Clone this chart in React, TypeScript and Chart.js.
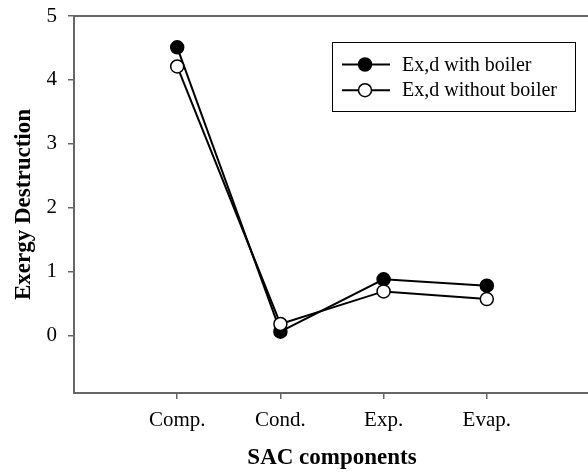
import React, { useEffect, useRef } from 'react';
import { Chart, registerables } from 'chart.js';

Chart.register(...registerables);

const categories = ['Comp.', 'Cond.', 'Exp.', 'Evap.'];
const withBoiler = [4.51, 0.06, 0.88, 0.78];
const withoutBoiler = [4.21, 0.18, 0.69, 0.57];
const yTickValues = [0, 1, 2, 3, 4, 5];
const seriesLabels = ['Ex,d with boiler', 'Ex,d without boiler'];
const xTitle = 'SAC components';
const yTitle = 'Exergy Destruction';

const FONT = "'Liberation Serif', 'Times New Roman', serif";
const AXIS_COLOR = '#666';

const boxLegend = {
  id: 'boxLegend',
  afterDraw(chart: any) {
    const ctx = chart.ctx as CanvasRenderingContext2D;
    ctx.save();
    // top frame line
    const { left, right, top } = chart.chartArea;
    ctx.strokeStyle = AXIS_COLOR;
    ctx.lineWidth = 2;
    ctx.beginPath();
    ctx.moveTo(left - 1, top);
    ctx.lineTo(right, top);
    ctx.stroke();

    // legend box
    const x0 = 332, y0 = 42, w = 243, h = 69;
    ctx.strokeStyle = '#000';
    ctx.lineWidth = 1;
    ctx.strokeRect(x0 + 0.5, y0 + 0.5, w, h);
    chart.data.datasets.forEach((ds: any, i: number) => {
      const cy = 64.5 + i * 25.7;
      ctx.strokeStyle = '#000';
      ctx.lineWidth = 2;
      ctx.beginPath();
      ctx.moveTo(342, cy);
      ctx.lineTo(390, cy);
      ctx.stroke();
      ctx.beginPath();
      ctx.arc(365, cy, 6.5, 0, Math.PI * 2);
      ctx.fillStyle = ds.pointBackgroundColor;
      ctx.fill();
      ctx.lineWidth = 1.5;
      ctx.stroke();
      ctx.fillStyle = '#000';
      ctx.font = `20px ${FONT}`;
      ctx.textBaseline = 'middle';
      ctx.textAlign = 'left';
      ctx.fillText(ds.label, 402, cy + 1);
    });
    ctx.restore();
  },
};

export default function App() {
  const ref = useRef<HTMLCanvasElement | null>(null);

  useEffect(() => {
    if (!ref.current) return;
    const chart = new Chart(ref.current, {
      type: 'line',
      data: {
        datasets: [
          {
            label: seriesLabels[0],
            data: categories.map((_, i) => ({ x: i + 1, y: withBoiler[i] })),
            borderColor: '#000',
            borderWidth: 2,
            pointBackgroundColor: '#000',
            pointBorderColor: '#000',
            pointBorderWidth: 1.5,
            pointRadius: 6.5,
            tension: 0,
            order: 1,
          },
          {
            label: seriesLabels[1],
            data: categories.map((_, i) => ({ x: i + 1, y: withoutBoiler[i] })),
            borderColor: '#000',
            borderWidth: 2,
            pointBackgroundColor: '#fff',
            pointBorderColor: '#000',
            pointBorderWidth: 1.5,
            pointRadius: 6.5,
            tension: 0,
            order: 0,
          },
        ],
      },
      options: {
        animation: false,
        responsive: false,
        devicePixelRatio: 1,
        layout: { padding: { top: 16, left: 0, right: 0, bottom: 0 } },
        plugins: {
          legend: { display: false },
          tooltip: { enabled: false },
        },
        scales: {
          x: {
            type: 'linear',
            min: 0,
            max: 5,
            afterBuildTicks: (axis: any) => {
              axis.ticks = categories.map((_, i) => ({ value: i + 1 }));
            },
            afterFit: (axis: any) => {
              axis.height = 80;
              axis.paddingLeft = 0;
              axis.paddingRight = 0;
            },
            ticks: {
              callback: (v: any) => categories[Number(v) - 1] ?? '',
              color: '#000',
              font: { family: FONT, size: 21 },
              padding: 9,
              maxRotation: 0,
              autoSkip: false,
            },
            grid: {
              drawOnChartArea: false,
              drawTicks: true,
              tickLength: 6,
              color: AXIS_COLOR,
              lineWidth: 1.5,
            },
            border: { display: true, color: AXIS_COLOR, width: 2 },
            title: {
              display: true,
              text: xTitle,
              color: '#000',
              font: { family: FONT, size: 23, weight: 'bold' },
              padding: { top: 0, bottom: 1 },
            },
          },
          y: {
            type: 'linear',
            min: -0.9,
            max: 5,
            afterBuildTicks: (axis: any) => {
              axis.ticks = yTickValues.map((v) => ({ value: v }));
            },
            afterFit: (axis: any) => {
              axis.width = 74;
              axis.paddingTop = 0;
              axis.paddingBottom = 0;
            },
            ticks: {
              color: '#000',
              font: { family: FONT, size: 21 },
              padding: 11,
            },
            grid: {
              drawOnChartArea: false,
              drawTicks: true,
              tickLength: 6,
              color: AXIS_COLOR,
              lineWidth: 1.5,
            },
            border: { display: true, color: AXIS_COLOR, width: 2 },
            title: {
              display: true,
              text: yTitle,
              color: '#000',
              font: { family: FONT, size: 23, weight: 'bold' },
              padding: { top: 10, bottom: 0 },
            },
          },
        },
      } as any,
      plugins: [boxLegend],
    });
    return () => chart.destroy();
  }, []);

  return (
    <div style={{ position: 'absolute', left: 0, top: 0, width: 588, height: 473, overflow: 'hidden', background: '#fff' }}>
      <canvas ref={ref} width={598} height={473} style={{ display: 'block' }} />
    </div>
  );
}
